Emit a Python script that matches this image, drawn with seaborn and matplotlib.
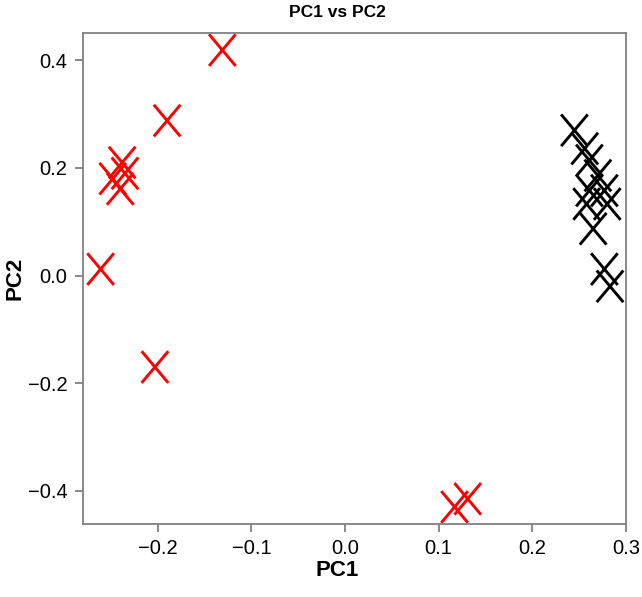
import pandas as pd
import matplotlib
matplotlib.use("Agg")
import matplotlib.pyplot as plt
from matplotlib.path import Path
from matplotlib.markers import MarkerStyle
import seaborn as sns

# PCA scores
red_pc1 = [-0.131, -0.190, -0.238, -0.235, -0.248, -0.240, -0.261, -0.203, 0.117, 0.131]
red_pc2 = [0.419, 0.288, 0.210, 0.190, 0.180, 0.161, 0.012, -0.170, -0.430, -0.415]
black_pc1 = [0.245, 0.256, 0.261, 0.270, 0.261, 0.277, 0.258, 0.280, 0.265, 0.277, 0.283]
black_pc2 = [0.270, 0.236, 0.214, 0.186, 0.158, 0.158, 0.133, 0.133, 0.087, 0.012, -0.020]

x_ticks = [-0.2, -0.1, 0.0, 0.1, 0.2, 0.3]
y_ticks = [-0.4, -0.2, 0.0, 0.2, 0.4]

df = pd.DataFrame({
    "PC1": red_pc1 + black_pc1,
    "PC2": red_pc2 + black_pc2,
    "group": ["A"] * len(red_pc1) + ["B"] * len(black_pc1),
})

# tall, narrow X like the original
x_path = Path([(-0.42, -0.5), (0.42, 0.5), (-0.42, 0.5), (0.42, -0.5)],
              [Path.MOVETO, Path.LINETO, Path.MOVETO, Path.LINETO])
tall_x = MarkerStyle(x_path, fillstyle="none")

sns.set_style("ticks")
plt.rcParams["font.family"] = ["Liberation Sans", "DejaVu Sans"]
plt.rcParams["text.color"] = "black"
plt.rcParams["axes.labelcolor"] = "black"

fig = plt.figure(figsize=(6.42, 5.97), dpi=100)
ax = fig.add_axes([0.129, 0.122, 0.846, 0.822])

sns.scatterplot(data=df, x="PC1", y="PC2", hue="group",
                palette={"A": "#ff0000", "B": "#000000"},
                marker=tall_x, s=520, linewidth=2.1, legend=False, ax=ax)

# the marker is line-only, so move the hue colours onto the edges
pts = ax.collections[0]
pts.set_edgecolors(pts.get_facecolors())
pts.set_facecolors("none")

ax.set_xlim(-0.28, 0.30)
ax.set_ylim(-0.462, 0.45)
ax.set_xticks(x_ticks)
ax.set_yticks(y_ticks)
ax.set_xticklabels([f"{v:.1f}".replace("-", "\u2212") for v in x_ticks])
ax.set_yticklabels([f"{v:.1f}".replace("-", "\u2212") for v in y_ticks])

for sp in ax.spines.values():
    sp.set_color("#808080")
    sp.set_linewidth(1.3)
ax.tick_params(direction="out", length=6, width=1.3, color="#808080",
               labelsize=14.5, labelcolor="black", pad=5)

ax.set_xlabel("PC1", fontsize=16, fontweight="bold", labelpad=1, x=0.468)
ax.set_ylabel("PC2", fontsize=16, fontweight="bold", labelpad=2)
ax.set_title("PC1 vs PC2", fontsize=12.5, fontweight="bold", pad=12, x=0.468)

fig.savefig("out.png", dpi=100)
